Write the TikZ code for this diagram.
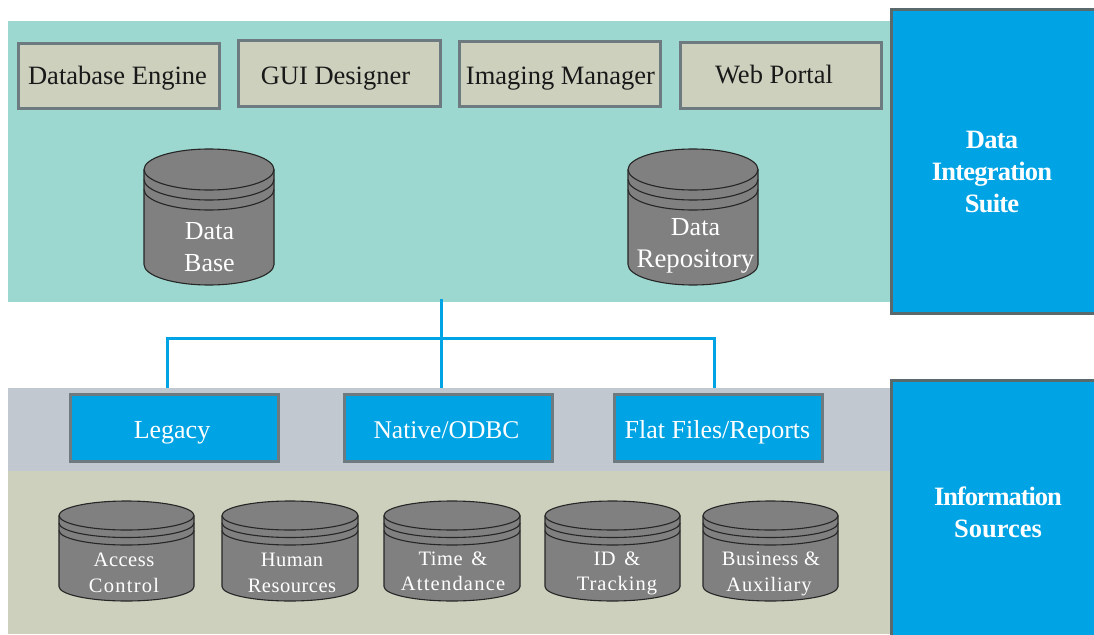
\documentclass[tikz,border=0pt]{standalone}
\usepackage{fontspec}
\setmainfont{Liberation Serif}
\usetikzlibrary{calc}
\definecolor{teal}{HTML}{9CD8CF}
\definecolor{beige}{HTML}{CDD0BD}
\definecolor{strip}{HTML}{C1C8CF}
\definecolor{bluex}{HTML}{00A4E4}
\definecolor{edgex}{HTML}{6D7B80}
\definecolor{edgey}{HTML}{5A6A6C}
\definecolor{cyl}{HTML}{808080}
\newcommand{\lin}{\rule[-0.27em]{0pt}{0.95em}}
\newcommand{\wide}[2]{{\addfontfeature{LetterSpace=#1}#2}}
\tikzset{
  toolbox/.style={draw=edgex,line width=3pt,fill=beige,inner sep=0pt,text depth=6pt,text height=#1,font=\fontsize{26.5}{30}\selectfont,text=black!90},
  srcbox/.style={draw=edgex,line width=3pt,fill=bluex,inner sep=0pt,text depth=6pt,text height=26pt,font=\fontsize{26}{30}\selectfont,text=white},
  sidebox/.style={draw=edgey,line width=3pt,fill=bluex},
  sidetext/.style={align=center,text=white,font=\fontsize{26.5}{32}\selectfont\bfseries\addfontfeature{LetterSpace=-3}},
  link/.style={draw=bluex,line width=3pt},
  cylout/.style={draw=black!85,line width=1.1pt,fill=cyl},
  cylrim/.style={draw=black!85,line width=1.1pt},
  bigcyl/.style={align=center,text=white,font=\fontsize{26}{32}\selectfont},
  smallcyl/.style={align=center,text=white,font=\fontsize{20.5}{25.5}\selectfont\addfontfeature{LetterSpace=2.5}},
}
% #1 left, #2 right, #3 top, #4 ellipse centre y, #5 first rim gap, #6 bottom
\newcommand{\drum}[6]{%
  \pgfmathsetmacro{\rxx}{(#2-#1)/2}%
  \pgfmathsetmacro{\ryy}{#4-#3}%
  \pgfmathsetmacro{\yb}{#6-\ryy}%
  \path[cylout] (#1,#4) arc[start angle=180,end angle=0,x radius=\rxx,y radius=-\ryy]
     -- (#2,\yb) arc[start angle=360,end angle=180,x radius=\rxx,y radius=-\ryy] -- cycle;
  \draw[cylrim] (#1,#4) arc[start angle=180,end angle=360,x radius=\rxx,y radius=-\ryy];
  \draw[cylrim] (#1,#4+#5) arc[start angle=180,end angle=360,x radius=\rxx,y radius=-\ryy];
  \draw[cylrim] (#1,#4+2*#5) arc[start angle=180,end angle=360,x radius=\rxx,y radius=-\ryy];
}
\begin{document}
\begin{tikzpicture}[x=1pt,y=-1pt]
\useasboundingbox (0,0) rectangle (1094,634);
\fill[white] (0,0) rectangle (1094,634);
% panels
\fill[teal] (8,21) rectangle (891,302);
\fill[strip] (8,388) rectangle (891,471);
\fill[beige] (8,471) rectangle (891,634);
\coordinate (hub) at (441,299);
\coordinate (tee) at (441,338);
\coordinate (dropa) at (167,388);
\coordinate (dropb) at (441,388);
\coordinate (dropc) at (714,388);
\draw[link] (hub) -- (dropb);
\draw[link] (dropa) |- (tee) -| (dropc);
% side
\draw[sidebox] (891,10) rectangle (1100,313);
\draw[sidebox] (891,380) rectangle (1100,640);
\node[sidetext] (suite) at (992,171.5) {Data\\Integration\\Suite};
\node[sidetext] (sources) at (998,512.5) {{\addfontfeature{LetterSpace=-4}Information}\\{\addfontfeature{LetterSpace=0}Sources}};
% tools
\node[toolbox=22pt,minimum width=201pt,minimum height=65pt] (engine) at (118.5,76) {\hspace*{-2pt}Database Engine};
\node[toolbox=28pt,minimum width=202pt,minimum height=65pt] (gui) at (339,73.5) {\hspace*{-7pt}GUI Designer};
\node[toolbox=26pt,minimum width=201pt,minimum height=65pt] (imaging) at (559.5,74) {\hspace*{2pt}Imaging Manager};
\node[toolbox=22pt,minimum width=201pt,minimum height=65pt] (web) at (780.5,75.5) {\hspace*{-13pt}Web Portal};
% sources
\node[srcbox,minimum width=208pt,minimum height=67pt] (legacy) at (174,428) {\hspace*{-4pt}Legacy};
\node[srcbox,minimum width=208pt,minimum height=67pt] (native) at (448,428) {\hspace*{-3pt}\fontsize{25.5}{30}\selectfont Native/ODBC};
\node[srcbox,minimum width=208pt,minimum height=67pt] (flat) at (718,428) {\hspace*{-1pt}Flat Files/Reports};
% large drums
\drum{144}{274}{149}{169.5}{10}{285}
\node[bigcyl] (database) at (209.5,250) {\lin Data\\\lin Base};
\drum{628}{758}{149}{169.5}{10}{285}
\node[bigcyl] (repo) at (695.5,246) {\lin Data\\\fontsize{26.8}{32}\selectfont\lin Repository};
% small drums
\drum{59}{194}{501}{515.5}{7.5}{601}
\node[smallcyl] (access) at (124,575.5) {\lin Access\\\lin\wide{6}{Control}};
\drum{222}{358}{501}{515.5}{7.5}{601}
\node[smallcyl] (human) at (292,575.5) {\lin Human\\\lin Resources};
\drum{384}{520}{501}{515.5}{7.5}{601}
\node[smallcyl] (time) at (453,574) {\lin Time \hspace{3pt}\&\\\lin\wide{6}{Attendance}};
\drum{545}{680}{501}{515.5}{7.5}{601}
\node[smallcyl] (idt) at (617,574) {\lin ID \hspace{3pt}\&\\\lin\wide{5}{Tracking}};
\drum{703}{838}{501}{515.5}{7.5}{601}
\node[smallcyl] (biz) at (771,574.5) {\lin Business \&\\\lin\hspace*{-4pt}\wide{4}{Auxiliary}};
\end{tikzpicture}
\end{document}
